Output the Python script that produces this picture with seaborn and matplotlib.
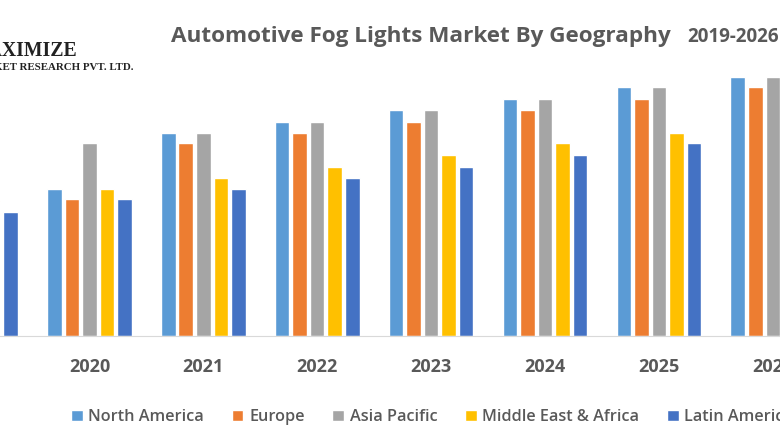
import matplotlib
matplotlib.use("Agg")
import matplotlib.pyplot as plt
import pandas as pd
import seaborn as sns

years = ["2019", "2020", "2021", "2022", "2023", "2024", "2025", "2026"]
north_america = [12, 13.05, 18, 19, 20.05, 21.1, 22.1, 23]
europe = [11, 12.2, 17.15, 18.05, 19, 20.05, 21.1, 22.1]
asia_pacific = [16, 17.15, 18, 19, 20.05, 21.1, 22.1, 23]
middle_east = [12, 13.05, 14, 15, 16.1, 17.15, 18, 19]
latin_america = [11.05, 12.2, 13.05, 14, 15, 16.1, 17.15, 18]

regions = ["North America", "Europe", "Asia Pacific", "Middle East & Africa", "Latin America"]
colors = ["#5B9BD5", "#ED7D31", "#A5A5A5", "#FFC000", "#4472C4"]
text_color = "#595959"

df = pd.DataFrame({"Year": years, "North America": north_america, "Europe": europe,
                   "Asia Pacific": asia_pacific, "Middle East & Africa": middle_east,
                   "Latin America": latin_america})
df = df.melt(id_vars="Year", var_name="Region", value_name="Value")

sns.set_style("white")
plt.rcParams["font.family"] = ["Open Sans", "DejaVu Sans"]

fig = plt.figure(figsize=(7.8, 4.4), dpi=100)
# axes fill the canvas, the picture is cropped on both sides
ax = fig.add_axes([0, 104 / 440, 1, 336 / 440])
sns.barplot(data=df, x="Year", y="Value", hue="Region", hue_order=regions,
            palette=colors, width=0.77, gap=0.17, saturation=1, ax=ax)

ax.set_xlim(0.215, 7.063)
ax.set_ylim(0, 336 / 11.25)
ax.set_xlabel("")
ax.set_ylabel("")
ax.set_yticks([])
ax.tick_params(axis="x", length=0, pad=16, labelsize=13, labelcolor=text_color)
for lab in ax.get_xticklabels():
    lab.set_fontweight("bold")
sns.despine(ax=ax, left=True)
ax.spines["bottom"].set_color("#D9D9D9")

sns.move_legend(ax, "center left", bbox_to_anchor=(71 / 780, (440 - 417) / 440),
                bbox_transform=fig.transFigure, ncol=5, frameon=False, title=None,
                fontsize=11.7, handlelength=0.72, handleheight=0.72, handletextpad=0.35,
                columnspacing=1.7, borderpad=0, borderaxespad=0)
for t in ax.get_legend().get_texts():
    t.set_color(text_color)
    t.set_fontweight("semibold")

fig.text(171 / 780, 1 - 36.5 / 440, "Automotive Fog Lights Market By Geography",
         fontsize=16.2, fontweight="bold", color=text_color, va="center")
fig.text(687 / 780, 1 - 37 / 440, "2019-2026", fontsize=13.5, fontweight="bold",
         color=text_color, va="center")

fig.text(77 / 780, 1 - 51 / 440, "MAXIMIZE", family="Liberation Serif", fontsize=14.2,
         fontweight="bold", color="#222222", ha="right", va="center")
fig.text(134 / 780, 1 - 68 / 440, "MARKET RESEARCH PVT. LTD.", family="Liberation Serif",
         fontsize=7.8, fontweight="bold", color="#222222", ha="right", va="center")

fig.savefig("out.png", dpi=100)
